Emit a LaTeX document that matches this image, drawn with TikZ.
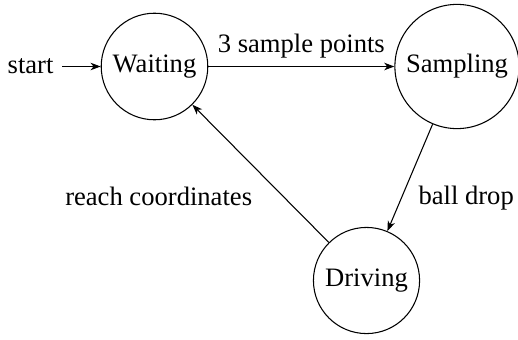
\documentclass[tikz,border=0pt]{standalone}
\usepackage{fontspec}
\setmainfont{Liberation Serif}
\usetikzlibrary{arrows.meta}
\begin{document}
\begin{tikzpicture}[x=0.376pt,y=-0.376pt,
  >={Stealth[length=3.8pt,width=2.8pt,inset=1.1pt]},
  statebox/.style={circle,draw,inner sep=3pt},
  lbl/.style={inner sep=3pt}]
\useasboundingbox (0,0) rectangle (518,339);
\node[statebox] (W) at (154.5,66.5) {Waiting};
\node[statebox] (S) at (457,66.5) {Sampling};
\node[statebox] (D) at (366.5,280.5) {Driving};
\node[lbl,anchor=east] (st) at (62,66.5) {start};
\draw[->] (st) -- (W);
\draw[->] (W) -- node[lbl,above] {3 sample points} (S);
\draw[->] (S) -- node[lbl,below right] {ball drop} (D);
\draw[->] (D) -- node[lbl,below left,yshift=-2pt] {reach coordinates} (W);
\end{tikzpicture}
\end{document}
